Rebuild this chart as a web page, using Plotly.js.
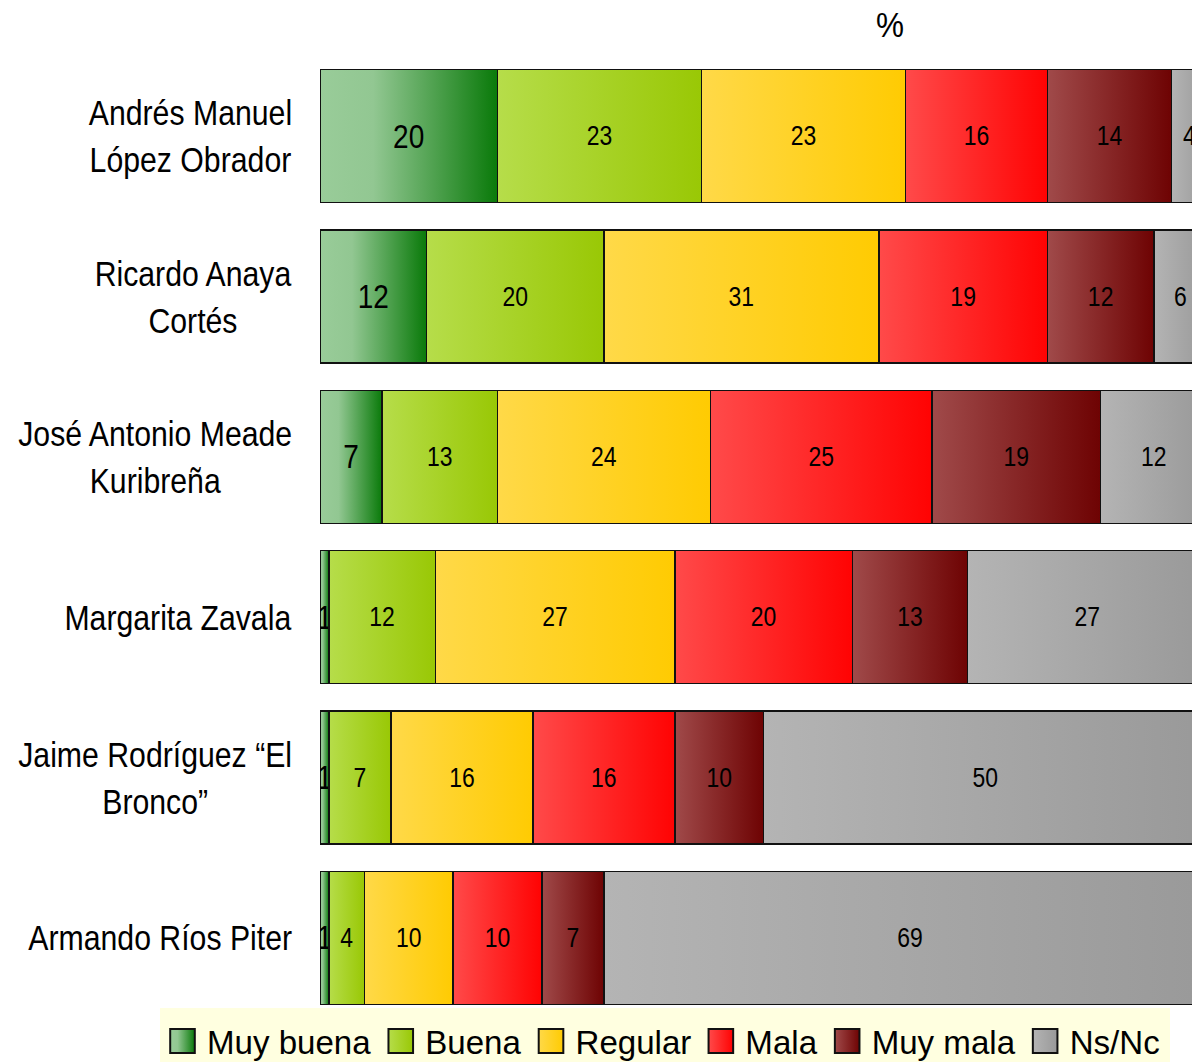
<!DOCTYPE html>
<html><head><meta charset="utf-8">
<script src="https://cdn.plot.ly/plotly-3.0.1.min.js"></script>
<style>html,body{margin:0;padding:0;background:#fff;overflow:hidden}#chart{width:1192px;height:1062px}</style>
</head><body><div id="chart"></div>
<script>
// ---- data ----
const candidates = ["Andrés Manuel<br>López Obrador", "Ricardo Anaya<br>Cortés", "José Antonio Meade<br>Kuribreña", "Margarita Zavala", "Jaime Rodríguez “El<br>Bronco”", "Armando Ríos Piter"];
const seriesNames = ["Muy buena", "Buena", "Regular", "Mala", "Muy mala", "Ns/Nc"];
const muyBuena = [20, 12, 7, 1, 1, 1];
const buena    = [23, 20, 13, 12, 7, 4];
const regular  = [23, 31, 24, 27, 16, 10];
const mala     = [16, 19, 25, 20, 16, 10];
const muyMala  = [14, 12, 19, 13, 10, 7];
const nsnc     = [4, 6, 12, 27, 50, 69];
const seriesValues = [muyBuena, buena, regular, mala, muyMala, nsnc];

// ---- styles ----
const FONT = '"Liberation Sans", Arial, sans-serif';
const baseColors = ["#5aa05a", "#a8d22a", "#ffd228", "#ff2828", "#882828", "#a6a6a6"];
const gradStops = [
  [[0, "#99cc99"], [0.3, "#92c792"], [1, "#0a7a0a"]],
  [[0, "#b6dd4a"], [1, "#99c805"]],
  [[0, "#ffd948"], [1, "#ffcb02"]],
  [[0, "#ff4a4a"], [1, "#ff0303"]],
  [[0, "#a04a4a"], [1, "#6e0303"]],
  [[0, "#b4b4b4"], [1, "#999999"]]
];
const labelSizes = [33, 27, 27, 27, 27, 27];

const traces = seriesNames.map((name, i) => ({
  type: 'bar',
  orientation: 'h',
  name: name,
  y: candidates,
  x: seriesValues[i],
  text: seriesValues[i].map(String),
  textposition: 'inside',
  insidetextanchor: 'middle',
  constraintext: 'none',
  textangle: 0,
  insidetextfont: {family: FONT, size: labelSizes[i], color: '#000'},
  marker: {color: baseColors[i], line: {color: '#111', width: 1.5}},
  hoverinfo: 'skip'
}));

const annotations = candidates.map(c => ({
  xref: 'paper', x: 0, xanchor: 'right', xshift: -26,
  yref: 'y', y: c, yanchor: 'middle',
  text: c, align: 'center', showarrow: false,
  font: {family: FONT, size: 36, color: '#000'}
}));

const layout = {
  width: 1192, height: 1062,
  margin: {l: 320, r: 0, t: 56, b: 44, autoexpand: false},
  paper_bgcolor: '#fff', plot_bgcolor: '#fff',
  barmode: 'stack', bargap: 0.171,
  font: {family: FONT, color: '#000'},
  title: {text: '%', xref: 'container', x: 0.7466, xanchor: 'center', yref: 'container', y: 0.977, yanchor: 'middle',
          font: {family: FONT, size: 35, color: '#000'}},
  xaxis: {range: [0, 98.3], showgrid: false, zeroline: false, showticklabels: false, showline: false, ticks: '', fixedrange: true},
  yaxis: {type: 'category', autorange: 'reversed', showgrid: false, zeroline: false, showticklabels: false, showline: false, ticks: '', automargin: false},
  showlegend: true,
  legend: {orientation: 'h', traceorder: 'normal', x: -0.1835, xanchor: 'left', y: -0.05, yanchor: 'bottom',
           bgcolor: '#ffffe0', borderwidth: 0, itemwidth: 39,
           font: {family: FONT, size: 33.1, color: '#000'}},
  annotations: annotations
};

function traceIdx(d) { while (Array.isArray(d)) d = d[0]; return d && d.trace ? d.trace.index : null; }

// horizontally condense a text element around an anchor ('left' | 'center' | 'right')
function condense(el, k, anchor) {
  const bb = el.getBBox();
  const ox = anchor === 'right' ? bb.x + bb.width : anchor === 'left' ? bb.x : bb.x + bb.width / 2;
  const t = el.getAttribute('transform') || '';
  el.setAttribute('transform', t + ` translate(${ox},0) scale(${k},1) translate(${-ox},0)`);
}
function parseTranslate(s) {
  const m = /translate\(\s*([-\d.e]+)[ ,]+([-\d.e]+)/.exec(s || '');
  return m ? [parseFloat(m[1]), parseFloat(m[2])] : [0, 0];
}

Plotly.newPlot('chart', traces, layout, {staticPlot: true, displayModeBar: false}).then(gd => {
  const NS = 'http://www.w3.org/2000/svg';
  const svg = gd.querySelector('.main-svg');
  let defs = svg.querySelector('defs');
  if (!defs) { defs = document.createElementNS(NS, 'defs'); svg.insertBefore(defs, svg.firstChild); }
  gradStops.forEach((stops, i) => {
    const lg = document.createElementNS(NS, 'linearGradient');
    lg.setAttribute('id', 'bargrad' + i);
    lg.setAttribute('x1', '0'); lg.setAttribute('y1', '0'); lg.setAttribute('x2', '1'); lg.setAttribute('y2', '0');
    stops.forEach(([off, col]) => {
      const s = document.createElementNS(NS, 'stop');
      s.setAttribute('offset', off); s.setAttribute('stop-color', col);
      lg.appendChild(s);
    });
    defs.appendChild(lg);
  });
  gd.querySelectorAll('.barlayer .trace').forEach((g, k) => {
    let idx = traceIdx(g.__data__); if (idx === null) idx = k;
    g.querySelectorAll('.point path').forEach(p => { p.style.fill = 'url(#bargrad' + idx + ')'; });
    g.querySelectorAll('text').forEach(t => condense(t, 0.85, 'center'));
  });
  // category labels and title: narrow look
  gd.querySelectorAll('.annotation-text').forEach(t => condense(t, 0.84, 'right'));
  gd.querySelectorAll('.gtitle').forEach(t => condense(t, 0.9, 'center'));

  // legend symbols
  let firstSym = null;
  gd.querySelectorAll('.legend .traces').forEach((g, k) => {
    let idx = traceIdx(g.__data__); if (idx === null) idx = k;
    g.querySelectorAll('.legendpoints path').forEach(p => {
      p.style.fill = 'url(#bargrad' + idx + ')';
      const t = p.getAttribute('transform') || '';
      p.setAttribute('transform', t + ' scale(2.05,2.0)');
      p.setAttribute('vector-effect', 'non-scaling-stroke');
      p.style.strokeWidth = '2px';
      p.style.stroke = '#111';
      if (!firstSym) firstSym = p;
    });
  });
  // place legend: first symbol centre at (182.5, 1041), background from x=160..1170, top y=1008
  const leg = gd.querySelector('.legend');
  if (leg && firstSym) {
    const r = firstSym.getBoundingClientRect();
    const cx = r.left + r.width / 2, cy = r.top + r.height / 2;
    const [tx, ty] = parseTranslate(leg.getAttribute('transform'));
    leg.setAttribute('transform', `translate(${tx + 182.5 - cx},${ty + 1041 - cy})`);
    const bg = leg.querySelector('rect.bg');
    if (bg) {
      const br = bg.getBoundingClientRect();
      const x = parseFloat(bg.getAttribute('x') || 0), y = parseFloat(bg.getAttribute('y') || 0);
      bg.setAttribute('x', x + (160 - br.left));
      bg.setAttribute('width', 1170 - 160);
      bg.setAttribute('y', y + (1008 - br.top));
      bg.setAttribute('height', 1062 - 1008 + 10);
    }
  }
});
</script>
</body></html>
